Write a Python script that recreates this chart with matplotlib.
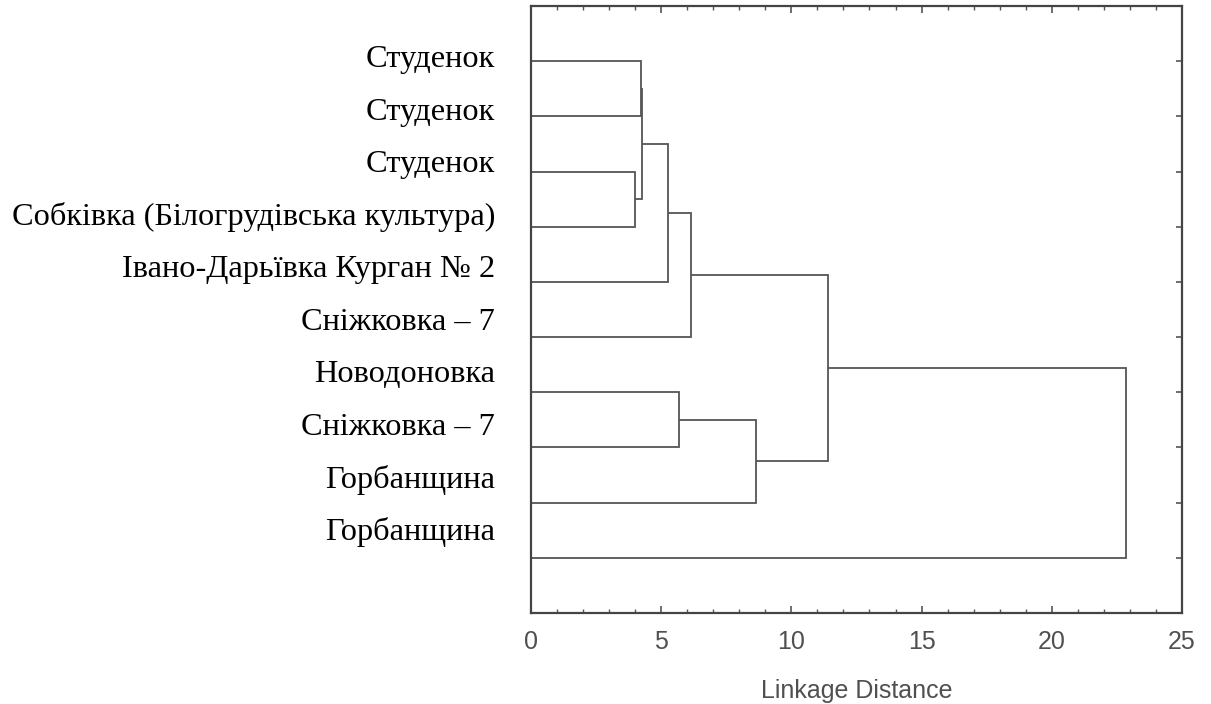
import matplotlib
matplotlib.use("Agg")
import matplotlib.pyplot as plt
from matplotlib.ticker import MultipleLocator

# leaf labels, top to bottom
labels = ["Студенок", "Студенок", "Студенок",
          "Собківка (Білогрудівська культура)",
          "Івано-Дарьївка Курган № 2", "Сніжковка – 7",
          "Новодоновка", "Сніжковка – 7", "Горбанщина", "Горбанщина"]

# merges: (child a, child b, linkage distance); leaves 0..9, new clusters 10, 11, ...
merge_a = [0, 2, 10, 12, 13, 6, 15, 14, 17]
merge_b = [1, 3, 11, 4, 5, 7, 8, 16, 9]
merge_h = [4.21, 3.98, 4.27, 5.27, 6.13, 5.70, 8.66, 11.42, 22.87]

x_ticks = [0, 5, 10, 15, 20, 25]

line_col = "#555555"
text_col = "#505050"

fig = plt.figure(figsize=(12.11, 7.04), dpi=100)
ax = fig.add_axes([0.4385, 0.1293, 0.5375, 0.8622])

# node positions: leaves at y=1..n, x=0
pos_x = [0.0] * len(labels)
pos_y = [float(i + 1) for i in range(len(labels))]
for a, b, h in zip(merge_a, merge_b, merge_h):
    ax.plot([pos_x[a], h, h, pos_x[b]], [pos_y[a], pos_y[a], pos_y[b], pos_y[b]],
            color=line_col, lw=1.3, solid_capstyle="butt", solid_joinstyle="miter")
    pos_x.append(h)
    pos_y.append((pos_y[a] + pos_y[b]) / 2)

ax.set_xlim(0, 25)
ax.set_ylim(len(labels) + 1, 0)

ax.set_xticks(x_ticks)
ax.xaxis.set_minor_locator(MultipleLocator(1))
ax.set_yticks(range(1, len(labels) + 1))
ax.set_yticklabels([])
ax.tick_params(axis="x", which="both", direction="in", top=True, bottom=True,
               colors=line_col, labelcolor=text_col, labelsize=18, pad=12)
ax.tick_params(axis="x", which="major", length=5, width=1.2)
ax.tick_params(axis="x", which="minor", length=3, width=1.0)
ax.tick_params(axis="y", which="both", direction="in", left=False, right=True,
               length=4, width=1.2, colors=line_col)
for lab in ax.get_xticklabels():
    lab.set_fontfamily("Liberation Sans")

for s in ax.spines.values():
    s.set_color("#444444")
    s.set_linewidth(1.6)

ax.set_xlabel("Linkage Distance", fontsize=18, color=text_col,
              family="Liberation Sans", labelpad=18)

# leaf labels, set in a column slightly tighter than the leaves
label_top = 1.105
label_step = 0.953
tr = ax.get_yaxis_transform()
for i, name in enumerate(labels):
    ax.text(-0.055, label_top + i * label_step, name, transform=tr,
            ha="right", va="baseline", fontsize=23.3, family="Liberation Serif",
            color="black")

fig.savefig("out.png", dpi=100)
